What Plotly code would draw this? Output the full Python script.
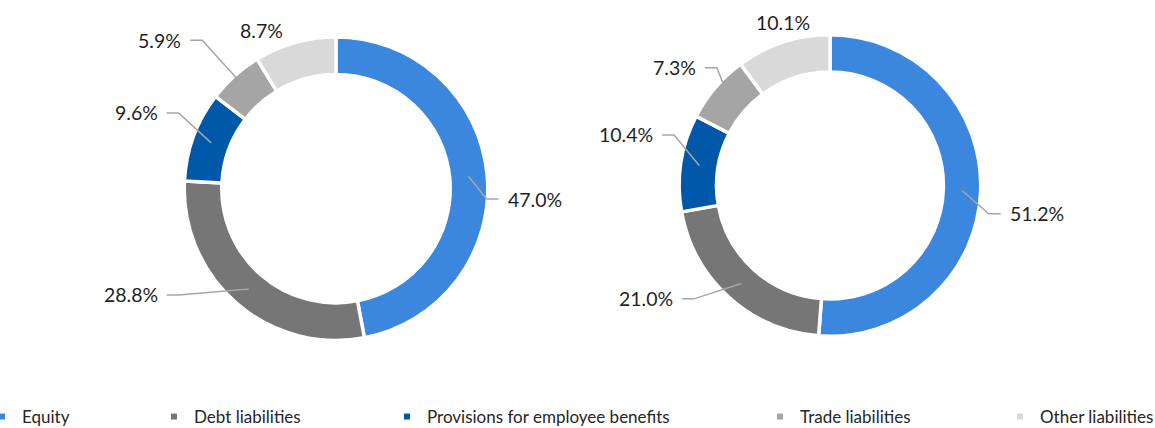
import math
import plotly.graph_objects as go

# ---------------- data ----------------
categories = ["Equity", "Debt liabilities", "Provisions for employee benefits",
              "Trade liabilities", "Other liabilities"]
left_values = [47.0, 28.8, 9.6, 5.9, 8.7]
right_values = [51.2, 21.0, 10.4, 7.3, 10.1]

# ---------------- style / layout ----------------
colors = ["#3A87DD", "#767676", "#0058A8", "#A5A5A5", "#D9D9D9"]
W, H = 1155, 428
FONT = "Lato"
LEFT_C, LEFT_R = (336.0, 188.7), 150.0
RIGHT_C, RIGHT_R = (830.0, 185.5), 149.0
HOLE_FRAC = 0.773          # visible inner radius / outer radius
SEP = 3.5                  # white gap between slices
LEADER_COLOR = "#A6A6A6"
GAP, SEG = 7, 12           # leader gap to text, horizontal segment length
# label placement nudges (angle offset in deg, distance from centre in px)
LEFT_NUDGE = [(8.9, 170), (17.9, 206), (3.1, 192), (-3.9, 213), (-9.7, 175)]
RIGHT_NUDGE = [(6.9, 180), (11.7, 192), (7.5, 182), (1.2, 177), (2.0, 170)]
# legend text start positions (px)
LEGEND_X = [22, 194, 427, 800, 1040]
LEGEND_Y = 399


def px(x, y):
    return x / W, 1 - y / H


def polar(c, r, theta):
    t = math.radians(theta)
    return c[0] + r * math.sin(t), c[1] - r * math.cos(t)


fig = go.Figure()
shapes, annotations = [], []


def add_donut(values, c, R, nudges):
    rd = R + SEP / 2
    x0, y1 = px(c[0] - rd, c[1] - rd)
    x1, y0 = px(c[0] + rd, c[1] + rd)
    hole = (HOLE_FRAC * R - SEP / 2) / rd
    fig.add_trace(go.Pie(
        labels=categories, values=values, sort=False, direction="clockwise",
        rotation=0, hole=hole, textinfo="none", hoverinfo="label+percent",
        marker=dict(colors=colors, line=dict(color="white", width=SEP)),
        domain=dict(x=[x0, x1], y=[y0, y1]), showlegend=False))
    total = sum(values)
    cum = 0.0
    ring_mid = (R + HOLE_FRAC * R) / 2
    for v, (dang, dist) in zip(values, nudges):
        mid = (cum + v / 2) / total * 360
        cum += v
        la = mid + dang
        lx, ly = polar(c, dist, la)
        s = math.sin(math.radians(la))
        if abs(s) > 0.5:
            side = 1 if s > 0 else -1
            xanchor = "left" if side > 0 else "right"
            sx, sy = polar(c, ring_mid, mid)
            hx = lx - side * GAP
            ex = hx - side * SEG
            p = [px(sx, sy), px(ex, ly), px(hx, ly)]
            path = "M {:.5f},{:.5f} L {:.5f},{:.5f} L {:.5f},{:.5f}".format(
                p[0][0], p[0][1], p[1][0], p[1][1], p[2][0], p[2][1])
            shapes.append(dict(type="path", xref="paper", yref="paper", path=path,
                               line=dict(color=LEADER_COLOR, width=1.5)))
        else:
            xanchor = "center"
        ax, ay = px(lx, ly)
        annotations.append(dict(
            x=ax, y=ay, xref="paper", yref="paper", xanchor=xanchor, yanchor="middle",
            text=f"{v:.1f}%", showarrow=False,
            font=dict(family=FONT, size=19.5, color="#1F1F1F")))


add_donut(left_values, LEFT_C, LEFT_R, LEFT_NUDGE)
add_donut(right_values, RIGHT_C, RIGHT_R, RIGHT_NUDGE)

# legend entries (one legend per entry for Excel-like spacing)
legend_layout = {}
for i, (cat, col) in enumerate(zip(categories, colors)):
    name = "legend" if i == 0 else f"legend{i + 1}"
    fig.add_trace(go.Scatter(
        x=[None], y=[None], mode="markers", name=cat,
        marker=dict(symbol="square", size=6, color=col),
        legend=name, showlegend=True, hoverinfo="skip"))
    lx, ly = px(LEGEND_X[i] - 40, LEGEND_Y)
    legend_layout[name] = dict(
        x=lx, y=ly, xanchor="left", yanchor="top", orientation="h",
        bgcolor="rgba(0,0,0,0)", borderwidth=0,
        font=dict(family=FONT, size=17, color="#262626"))

fig.update_layout(
    width=W, height=H,
    margin=dict(l=0, r=0, t=0, b=0, autoexpand=False),
    paper_bgcolor="white", plot_bgcolor="white",
    xaxis=dict(visible=False), yaxis=dict(visible=False),
    shapes=shapes, annotations=annotations,
    **legend_layout,
)

fig.write_html("out.html")
